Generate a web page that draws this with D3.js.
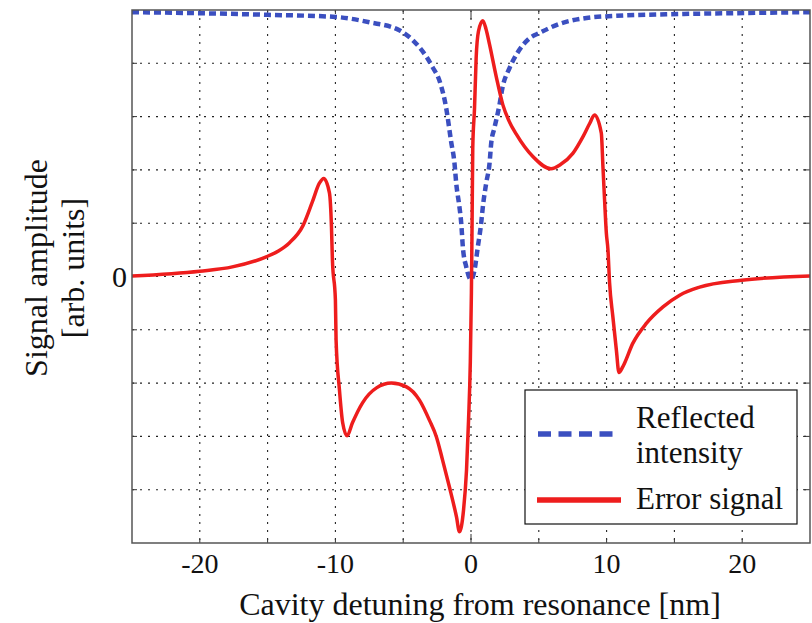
<!DOCTYPE html>
<html>
<head>
<meta charset="utf-8">
<script src="https://cdn.jsdelivr.net/npm/d3@7"></script>
<style>
  body { margin: 0; background: #fff; }
  svg { display: block; font-family: "Liberation Serif", "Times New Roman", serif; }
</style>
</head>
<body>
<svg id="chart" width="812" height="623"></svg>
<script>
// values
var reflX = [-25, -20, -15, -10, -7.5, -5.28, -4.32, -3.28, -2.84, -2.32, -1.83, -1.46, -1.22, -1.09, -0.85, -0.72, -0.6, -0.35, 0,
             0.26, 0.5, 0.75, 0.87, 1.12, 1.37, 1.49, 1.73, 2.1, 2.32, 2.84, 3.34, 4.32, 5.06, 6.53, 8.52, 10.7, 14.4, 19.3, 25];
var reflY = [4.96, 4.94, 4.91, 4.87, 4.77, 4.62, 4.44, 4.12, 3.93, 3.67, 3.16, 2.52, 2.13, 1.75, 1.3, 1.0, 0.55, 0.18, -0.06,
             0.12, 0.55, 1.0, 1.3, 1.75, 2.13, 2.5, 2.79, 3.22, 3.54, 3.91, 4.16, 4.47, 4.57, 4.74, 4.85, 4.89, 4.92, 4.94, 4.96];

var errX = [-25, -20, -17.6, -15.1, -14.2, -13.4, -12.4, -11.7, -11.18, -10.86, -10.44, -10.29, -10.22, -10.0, -9.95, -9.7, -9.46, -9.14,
            -8.75, -8.0, -6.97, -5.87, -4.76, -3.8, -3.06, -2.55, -2.1, -1.59, -1.07, -0.85, -0.55, -0.33, -0.18, -0.05,
            0.03, 0.08, 0.13, 0.26, 0.38, 0.55, 0.87, 1.1, 1.37, 1.86, 2.35, 2.8, 3.34, 4.56, 5.9, 6.6, 7.51, 8.25, 8.75, 9.11,
            9.61, 9.73, 9.85, 9.98, 10.1, 10.22, 10.46, 10.72, 10.91, 11.2, 11.94, 12.93, 14.16, 15.39, 16.86, 19.96, 25];
var errY = [0.01, 0.1, 0.18, 0.37, 0.48, 0.63, 0.95, 1.4, 1.75, 1.84, 1.57, 0.93, 0.31, -0.44, -1.19, -2.13, -2.75, -2.99,
            -2.75, -2.37, -2.09, -2.0, -2.07, -2.32, -2.7, -3.01, -3.44, -3.95, -4.51, -4.79, -4.38, -3.63, -2.69, -1.6,
            -0.3, 1.0, 2.41, 3.16, 4.1, 4.6, 4.8, 4.65, 4.35, 3.75, 3.22, 2.92, 2.67, 2.25, 2.02, 2.1, 2.31, 2.62, 2.87, 3.03,
            2.69, 2.06, 1.44, 0.82, 0.5, -0.12, -0.75, -1.38, -1.8, -1.69, -1.25, -0.88, -0.57, -0.35, -0.2, -0.07, 0.01];

var xTicks = [-20, -10, 0, 10, 20];
var xGrid = [-20, -15, -10, -5, 0, 5, 10, 15, 20];
var yGrid = [-4, -3, -2, -1, 0, 1, 2, 3, 4];
var yTickLabels = [0];

var legendItems = ["Reflected|intensity", "Error signal"];

var blue = "#3b4fc0";
var red = "#ee1d1d";

var margin = { top: 10, right: 2, bottom: 80, left: 132 };
var svgWidth = 812, svgHeight = 623;
var width = svgWidth - margin.left - margin.right;
var height = svgHeight - margin.top - margin.bottom;

var svg = d3.select("#chart");
var g = svg.append("g").attr("transform", "translate(" + margin.left + "," + margin.top + ")");

var x = d3.scaleLinear().domain([-25, 25]).range([0, width]);
var y = d3.scaleLinear().domain([-5, 5]).range([height, 0]);

// dotted grid
g.append("g").selectAll("line").data(xGrid).enter().append("line")
  .attr("x1", d => x(d)).attr("x2", d => x(d)).attr("y1", 0).attr("y2", height)
  .attr("stroke", "#222").attr("stroke-width", 1.1).attr("stroke-dasharray", "2,6");
g.append("g").selectAll("line").data(yGrid).enter().append("line")
  .attr("y1", d => y(d)).attr("y2", d => y(d)).attr("x1", 0).attr("x2", width)
  .attr("stroke", "#222").attr("stroke-width", 1.1).attr("stroke-dasharray", "2,6");

// small ticks on the frame
g.append("g").selectAll("line").data(yGrid).enter().append("line")
  .attr("y1", d => y(d)).attr("y2", d => y(d)).attr("x1", width - 7).attr("x2", width)
  .attr("stroke", "#333");
g.append("g").selectAll("line").data(yGrid).enter().append("line")
  .attr("y1", d => y(d)).attr("y2", d => y(d)).attr("x1", 0).attr("x2", 5)
  .attr("stroke", "#333");
g.append("g").selectAll("line").data(xGrid).enter().append("line")
  .attr("x1", d => x(d)).attr("x2", d => x(d)).attr("y1", d => height - (d === 0 ? 9 : 4)).attr("y2", height)
  .attr("stroke", "#333");
g.append("g").selectAll("line").data(xGrid).enter().append("line")
  .attr("x1", d => x(d)).attr("x2", d => x(d)).attr("y1", 0).attr("y2", d => d === 0 ? 9 : 4)
  .attr("stroke", "#333");

// curves
var line = d3.line().x(d => x(d[0])).y(d => y(d[1])).curve(d3.curveMonotoneX);
var reflData = reflX.map((v, i) => [v, reflY[i]]);
var errData = errX.map((v, i) => [v, errY[i]]);

g.append("path").datum(reflData).attr("d", line)
  .attr("fill", "none").attr("stroke", blue).attr("stroke-width", 4.5)
  .attr("stroke-dasharray", "7,4");
g.append("path").datum(errData).attr("d", line)
  .attr("fill", "none").attr("stroke", red).attr("stroke-width", 3.5)
  .attr("stroke-linejoin", "round");

// frame
g.append("rect").attr("width", width).attr("height", height)
  .attr("fill", "none").attr("stroke", "#555").attr("stroke-width", 1.5);

// tick labels
g.append("g").selectAll("text").data(xTicks).enter().append("text")
  .attr("x", d => x(d)).attr("y", height + 30)
  .attr("text-anchor", "middle").attr("font-size", 28).attr("fill", "#111")
  .text(d => d);
g.append("g").selectAll("text").data(yTickLabels).enter().append("text")
  .attr("x", -5).attr("y", d => y(d)).attr("dy", "0.35em")
  .attr("text-anchor", "end").attr("font-size", 30).attr("fill", "#111")
  .text(d => d);

// axis titles
svg.append("text").attr("x", 480).attr("y", 615)
  .attr("text-anchor", "middle").attr("font-size", 32).attr("fill", "#111")
  .text("Cavity detuning from resonance [nm]");
var yt = svg.append("text").attr("transform", "translate(0,268) rotate(-90)")
  .attr("text-anchor", "middle").attr("font-size", 32).attr("fill", "#111");
yt.append("tspan").attr("x", 0).attr("y", 47).text("Signal amplitude");
yt.append("tspan").attr("x", 0).attr("y", 84).text("[arb. units]");

// legend
var lg = svg.append("g").attr("transform", "translate(525,390)");
lg.append("rect").attr("width", 272).attr("height", 134)
  .attr("fill", "#fff").attr("stroke", "#111").attr("stroke-width", 1.2);
lg.append("line").attr("x1", 13).attr("x2", 94).attr("y1", 44).attr("y2", 44)
  .attr("stroke", blue).attr("stroke-width", 5.5).attr("stroke-dasharray", "13,7.5");
lg.append("line").attr("x1", 12).attr("x2", 96).attr("y1", 110).attr("y2", 110)
  .attr("stroke", red).attr("stroke-width", 5.5);
var t1 = lg.append("text").attr("font-size", 31).attr("fill", "#111");
legendItems[0].split("|").forEach(function (s, i) {
  t1.append("tspan").attr("x", 111).attr("y", 38 + i * 35).text(s);
});
lg.append("text").attr("x", 111).attr("y", 119).attr("font-size", 31).attr("fill", "#111")
  .text(legendItems[1]);
</script>
</body>
</html>
